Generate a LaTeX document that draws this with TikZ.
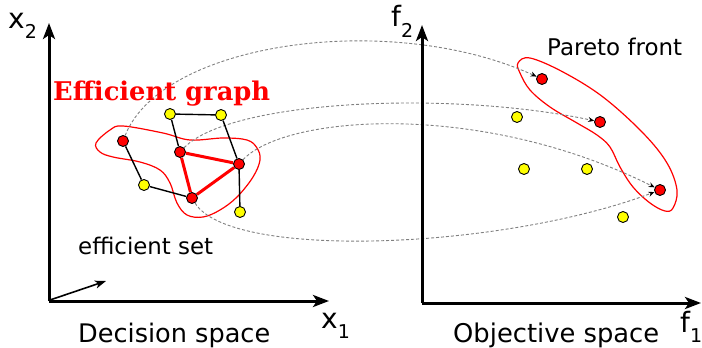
\documentclass[tikz,border=0pt]{standalone}
\usepackage{fontspec}
\setmainfont{DejaVu Sans}
\newfontfamily\serifbold{DejaVu Serif}
\usetikzlibrary{arrows.meta}
\pgfdeclarelayer{bg}
\pgfsetlayers{bg,main}
\definecolor{pred}{HTML}{FF0000}
\definecolor{pyel}{HTML}{FFFF00}
\tikzset{
  axis/.style={line width=3pt,-{Stealth[length=16pt,width=12pt,inset=4pt]}},
  rnode/.style={circle,draw=black,fill=pred,line width=0.9pt,minimum size=11pt,inner sep=0pt},
  ynode/.style={circle,draw=black,fill=pyel,line width=0.9pt,minimum size=11pt,inner sep=0pt},
  bedge/.style={line width=1.4pt,black},
  redge/.style={line width=3pt,pred},
  blob/.style={pred,line width=1.2pt},
  mapping/.style={black!50,line width=0.9pt,dash pattern=on 3pt off 2pt,-{Stealth[length=6pt,width=5pt,black]}},
  lbl/.style={inner sep=0pt,anchor=base west},
}
\begin{document}
\begin{tikzpicture}[x=1pt,y=-1pt]
\useasboundingbox (0,0) rectangle (702,348);
% axes left
\coordinate (O1) at (49,301);
\coordinate (X2top) at (49,23);
\coordinate (X1end) at (329,301);
\coordinate (Zs) at (50,300);
\coordinate (Ze) at (106,281);
\draw[axis] (O1) -- (X2top);
\draw[axis] (O1) -- (X1end);
\draw[line width=1.6pt,-{Stealth[length=11pt,width=8pt,inset=3pt]}] (Zs) -- (Ze);
% axes right
\coordinate (O2) at (422,303);
\coordinate (F2top) at (422,25);
\coordinate (F1end) at (701,303);
\draw[axis] (O2) -- (F2top);
\draw[axis] (O2) -- (F1end);
% labels
\node[lbl] (lx2) at (8,28) {\fontsize{28}{28}\selectfont x\raisebox{-0.36em}{\fontsize{19}{19}\selectfont 2}};
\node[lbl] (lx1) at (321,328) {\fontsize{28}{28}\selectfont x\raisebox{-0.36em}{\fontsize{19}{19}\selectfont 1}};
\node[lbl] (lf2) at (391,27) {\fontsize{28}{28}\selectfont f\raisebox{-0.36em}{\fontsize{19}{19}\selectfont 2}};
\node[lbl] (lf1) at (680,332) {\fontsize{28}{28}\selectfont f\raisebox{-0.36em}{\fontsize{19}{19}\selectfont 1}};
\node[lbl] (dspace) at (78,342) {\resizebox{192pt}{!}{Decision space}};
\node[lbl] (ospace) at (453,342) {\resizebox{206pt}{!}{Objective space}};
\node[lbl] (eset) at (78,254) {\resizebox{135pt}{!}{efficient set}};
\node[lbl] (pfront) at (547,55) {\resizebox{135pt}{!}{Pareto front}};
\node[lbl,text=pred] (egraph) at (53,100) {\resizebox{217pt}{!}{\serifbold\bfseries Efficient graph}};
% left nodes
\node[rnode] (A) at (123,141) {};
\node[ynode] (B) at (144,185) {};
\node[rnode] (C) at (192,198) {};
\node[rnode] (D) at (180,152) {};
\node[rnode] (E) at (239,164) {};
\node[ynode] (F) at (170,114) {};
\node[ynode] (G) at (221,115) {};
\node[ynode] (H) at (240,212) {};
% right nodes
\node[rnode] (P1) at (542,79) {};
\node[rnode] (P2) at (600,122) {};
\node[rnode] (P3) at (660,190) {};
\node[ynode] (Y1) at (517,117) {};
\node[ynode] (Y2) at (524,169) {};
\node[ynode] (Y3) at (587,169) {};
\node[ynode] (Y4) at (623,217) {};
\begin{pgfonlayer}{bg}
% blobs
\draw[blob] plot[smooth cycle,tension=0.6] coordinates {(96,143) (110,130) (123,126) (163,133) (190,140) (223,138) (247,140) (257,148) (260,160) (253,177) (237,197) (220,210) (203,217) (187,215) (177,203) (170,183) (160,170) (140,162) (113,157) (100,152)};
\draw[blob] plot[smooth cycle,tension=0.6] coordinates {(518,63) (530,58) (563,72) (603,97) (643,133) (667,163) (677,190) (673,208) (665,211) (650,203) (633,187) (620,167) (610,147) (597,135) (577,123) (550,107) (530,90) (520,73)};
% mappings
\draw[mapping] (A) .. controls (162,42) and (390,10) .. (P1);
\draw[mapping] (D) .. controls (230,100) and (450,90) .. (P2);
\draw[mapping] (E) .. controls (285,115) and (480,100) .. (P3);
\draw[mapping] (C) .. controls (230,260) and (500,250) .. (P3);
% edges
\draw[bedge] (A) -- (B);
\draw[bedge] (B) -- (C);
\draw[bedge] (F) -- (D);
\draw[bedge] (F) -- (G);
\draw[bedge] (G) -- (E);
\draw[bedge] (E) -- (H);
\draw[redge] (D) -- (E);
\draw[redge] (D) -- (C);
\draw[redge] (C) -- (E);
\end{pgfonlayer}
\end{tikzpicture}
\end{document}
